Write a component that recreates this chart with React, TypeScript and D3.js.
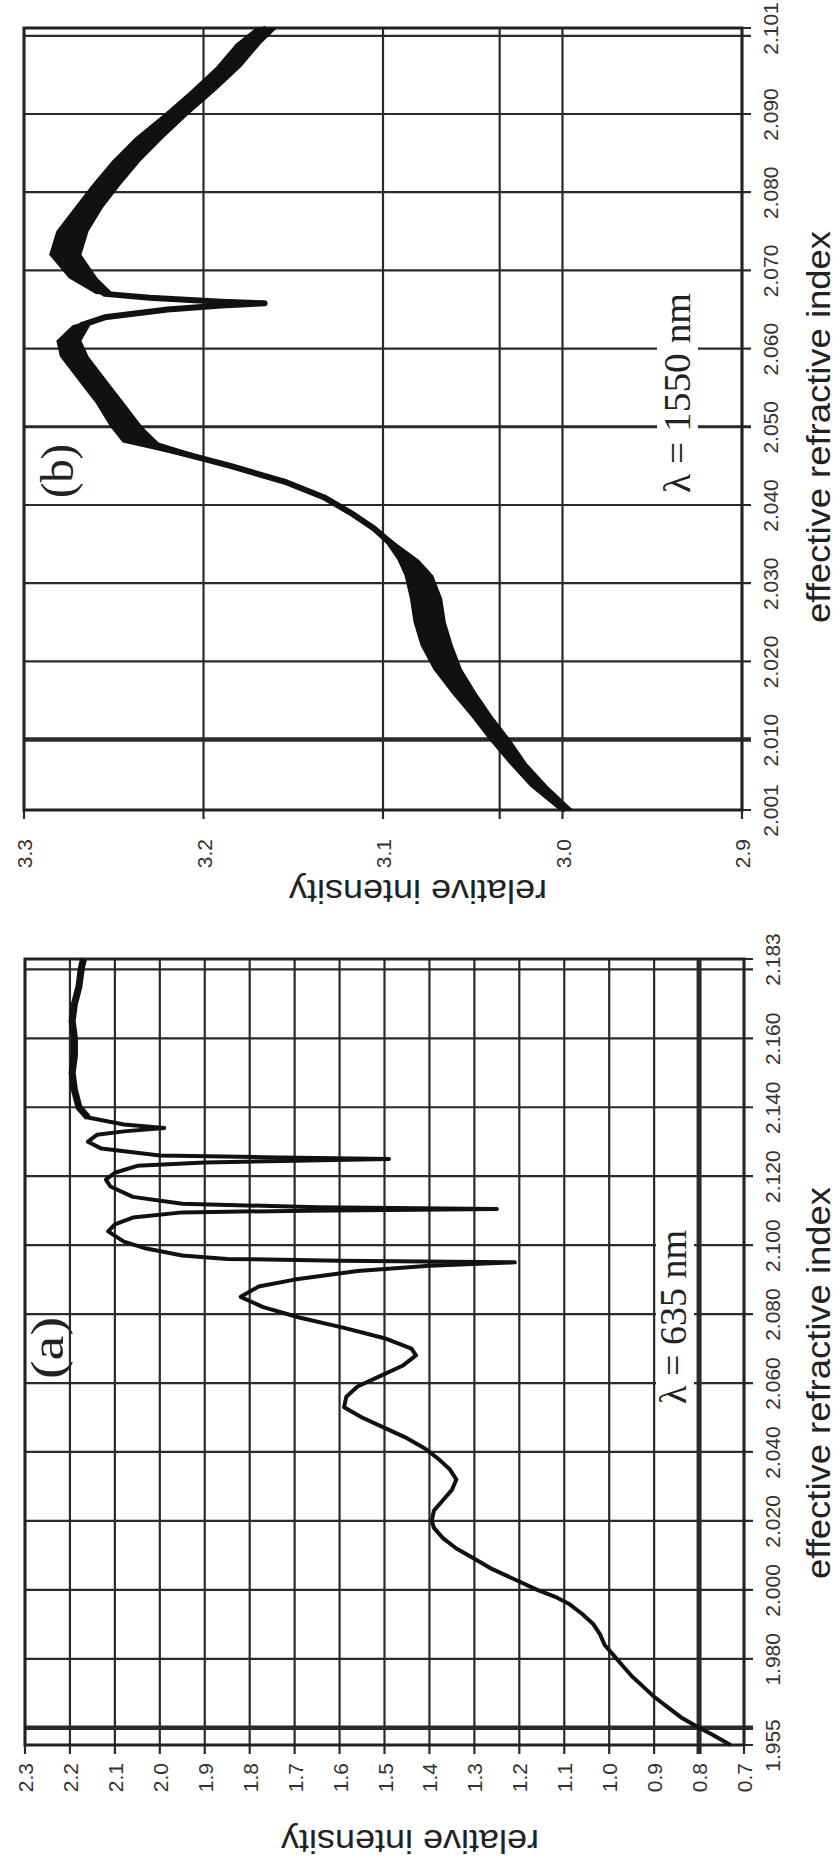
import React, { useEffect, useRef } from 'react';
import * as d3 from 'd3';

// Panel (a), lambda = 635 nm
const indexA = [
  1.955, 1.958, 1.96, 1.963, 1.966, 1.969, 1.972, 1.975, 1.978, 1.981, 1.984, 1.987, 1.99, 1.993, 1.996, 1.998,
  2.0, 2.003, 2.006, 2.009, 2.012, 2.015, 2.018, 2.02, 2.023, 2.026, 2.029, 2.032, 2.035, 2.038, 2.041, 2.044,
  2.047, 2.05, 2.053, 2.056, 2.059, 2.062, 2.065, 2.068, 2.07, 2.073, 2.076, 2.079, 2.082, 2.085, 2.088, 2.09,
  2.0925, 2.094, 2.095, 2.0955, 2.096, 2.097, 2.099, 2.101, 2.104, 2.106, 2.108, 2.1095, 2.11, 2.1105, 2.111,
  2.112, 2.114, 2.117, 2.119, 2.121, 2.123, 2.124, 2.125, 2.1255, 2.126, 2.128, 2.13, 2.132, 2.133, 2.134,
  2.135, 2.137, 2.14, 2.145, 2.15, 2.155, 2.16, 2.165, 2.17, 2.175, 2.18, 2.183,
];
const intensityA = [
  0.73, 0.77, 0.8, 0.84, 0.87, 0.9, 0.925, 0.95, 0.97, 0.99, 1.01, 1.02, 1.035, 1.06, 1.09, 1.12,
  1.16, 1.21, 1.26, 1.3, 1.34, 1.37, 1.39, 1.395, 1.39, 1.37, 1.35, 1.34, 1.355, 1.38, 1.41, 1.45,
  1.5, 1.55, 1.59, 1.585, 1.56, 1.51, 1.46, 1.43, 1.44, 1.5, 1.59, 1.69, 1.77, 1.82, 1.78, 1.7,
  1.56, 1.4, 1.21, 1.6, 1.85, 1.95, 2.03, 2.08, 2.115, 2.1, 2.06, 1.95, 1.67, 1.25, 1.65,
  1.95, 2.06, 2.11, 2.12, 2.1, 2.05, 1.9, 1.49, 1.77, 2.0, 2.13, 2.16, 2.14, 2.08, 1.99,
  2.08, 2.16, 2.18, 2.19, 2.195, 2.19, 2.19, 2.195, 2.19, 2.18, 2.175, 2.17,
];
const intensityTicksA = [2.3, 2.2, 2.1, 2.0, 1.9, 1.8, 1.7, 1.6, 1.5, 1.4, 1.3, 1.2, 1.1, 1.0, 0.9, 0.8, 0.7];
const indexTicksA = [1.955, 1.98, 2.0, 2.02, 2.04, 2.06, 2.08, 2.1, 2.12, 2.14, 2.16, 2.183];
const indexGridA = [1.955, 1.96, 1.98, 2.0, 2.02, 2.04, 2.06, 2.08, 2.1, 2.12, 2.14, 2.16, 2.18, 2.183];

// Panel (b), lambda = 1550 nm
const indexB = [
  2.001, 2.004, 2.007, 2.01, 2.013, 2.016, 2.019, 2.022, 2.025, 2.028, 2.031, 2.033, 2.035, 2.037, 2.039,
  2.041, 2.043, 2.045, 2.0465, 2.048, 2.05, 2.053, 2.056, 2.059, 2.061, 2.063, 2.064, 2.065, 2.0655, 2.0658,
  2.066, 2.0665, 2.067, 2.069, 2.072, 2.075, 2.078, 2.081, 2.084, 2.087, 2.09, 2.093, 2.096, 2.099, 2.101,
];
const intensityB = [
  2.998, 3.013, 3.025, 3.035, 3.045, 3.055, 3.064, 3.07, 3.074, 3.076, 3.08, 3.086, 3.095, 3.105, 3.118,
  3.133, 3.155, 3.185, 3.21, 3.235, 3.243, 3.252, 3.262, 3.272, 3.275, 3.268, 3.255, 3.22, 3.19, 3.166,
  3.19, 3.23, 3.255, 3.267, 3.277, 3.273, 3.264, 3.254, 3.243, 3.23, 3.215, 3.2, 3.186, 3.175, 3.165,
];
// half width of the noise band
const spreadB = [
  0.004, 0.005, 0.005, 0.006, 0.006, 0.007, 0.008, 0.009, 0.009, 0.009, 0.008, 0.006, 0.003, 0.002, 0.002,
  0.002, 0.002, 0.003, 0.006, 0.01, 0.009, 0.008, 0.008, 0.008, 0.007, 0.005, 0.002, 0.001, 0.001, 0.001,
  0.001, 0.002, 0.005, 0.008, 0.009, 0.009, 0.008, 0.008, 0.008, 0.008, 0.007, 0.007, 0.007, 0.007, 0.006,
];
const intensityTicksB = [3.3, 3.2, 3.1, 3.0, 2.9];
const intensityGridB = [3.3, 3.2, 3.1, 3.035, 3.0, 2.9];
const indexTicksB = [2.001, 2.01, 2.02, 2.03, 2.04, 2.05, 2.06, 2.07, 2.08, 2.09, 2.101];
const indexGridB = [2.001, 2.01, 2.02, 2.03, 2.04, 2.05, 2.06, 2.07, 2.08, 2.09, 2.1, 2.101];

const sans = '"Liberation Sans", Arial, sans-serif';
const serif = '"Liberation Serif", "Times New Roman", serif';

function drawPanel(root, p) {
  const g = root.append('g');
  const x = d3.scaleLinear().domain(p.iDomain).range([p.left, p.right]);
  const y = d3.scaleLinear().domain(p.nDomain).range([p.bottom, p.top]);

  // grid
  g.selectAll('.vg').data(p.iGrid).enter().append('line')
    .attr('x1', d => x(d)).attr('x2', d => x(d))
    .attr('y1', p.top).attr('y2', p.bottom + 9)
    .attr('stroke', '#2a2a2a')
    .attr('stroke-width', d => (d === p.iThick ? 5 : 2.2));

  g.selectAll('.hg').data(p.nGrid).enter().append('line')
    .attr('x1', p.left).attr('x2', p.right + 9)
    .attr('y1', d => y(d)).attr('y2', d => y(d))
    .attr('stroke', '#2a2a2a')
    .attr('stroke-width', d => (d === p.nThick ? 4.5 : d === p.nMid ? 3 : 2.2));

  g.append('rect')
    .attr('x', p.left).attr('y', p.top)
    .attr('width', p.right - p.left).attr('height', p.bottom - p.top)
    .attr('fill', 'none').attr('stroke', '#222').attr('stroke-width', 3);

  // lambda label with white box over the grid
  g.append('rect')
    .attr('x', p.lam.box[0]).attr('y', p.lam.box[1])
    .attr('width', p.lam.box[2]).attr('height', p.lam.box[3])
    .attr('fill', '#fff');
  g.append('text')
    .attr('transform', `translate(${p.lam.x},${p.lam.y}) rotate(-90)`)
    .attr('text-anchor', 'middle').attr('dominant-baseline', 'central')
    .attr('font-family', serif).attr('font-size', 38)
    .attr('textLength', p.lam.len).attr('lengthAdjust', 'spacingAndGlyphs')
    .attr('fill', '#222')
    .text(p.lam.text);

  // panel letter
  g.append('text')
    .attr('transform', `translate(${p.tag.x},${p.tag.y}) rotate(-90)`)
    .attr('text-anchor', 'middle').attr('dominant-baseline', 'central')
    .attr('font-family', serif).attr('font-size', 46)
    .attr('textLength', p.tag.len).attr('lengthAdjust', 'spacingAndGlyphs')
    .attr('fill', '#222')
    .text(p.tag.text);

  // data
  if (p.spread) {
    const pts = p.index.map((n, i) => ({ n, v: p.intensity[i], s: p.spread[i] }));
    g.append('path')
      .datum(pts)
      .attr('d', d3.area().y(d => y(d.n)).x0(d => x(d.v - d.s)).x1(d => x(d.v + d.s)))
      .attr('fill', '#111');
    g.append('path')
      .datum(pts)
      .attr('d', d3.line().x(d => x(d.v)).y(d => y(d.n)))
      .attr('fill', 'none').attr('stroke', '#111').attr('stroke-width', 6)
      .attr('stroke-linejoin', 'round');
  } else {
    const pts = p.index.map((n, i) => ({ n, v: p.intensity[i] }));
    g.append('path')
      .datum(pts)
      .attr('d', d3.line().x(d => x(d.v)).y(d => y(d.n)))
      .attr('fill', 'none').attr('stroke', '#111').attr('stroke-width', 4)
      .attr('stroke-linejoin', 'round');
    g.append('path')
      .datum(pts.filter(d => d.n >= 2.137))
      .attr('d', d3.line().x(d => x(d.v)).y(d => y(d.n)))
      .attr('fill', 'none').attr('stroke', '#111').attr('stroke-width', 7)
      .attr('stroke-linejoin', 'round');
  }

  // index axis (right side)
  const ax = g.append('g')
    .attr('transform', `translate(${p.right},0)`)
    .call(d3.axisRight(y).tickValues(p.nTicks).tickSize(0).tickFormat(d3.format('.3f')));
  ax.select('.domain').remove();
  ax.selectAll('text')
    .attr('x', null).attr('dy', null)
    .attr('transform', 'translate(28,0) rotate(-90)')
    .attr('text-anchor', 'middle').attr('dominant-baseline', 'central')
    .attr('font-family', sans).attr('font-size', 21).attr('fill', '#333');

  // intensity axis (bottom)
  const bx = g.append('g')
    .attr('transform', `translate(0,${p.bottom})`)
    .call(d3.axisBottom(x).tickValues(p.iTicks).tickSize(0).tickFormat(d3.format('.1f')));
  bx.select('.domain').remove();
  bx.selectAll('text')
    .attr('y', null).attr('dy', null)
    .attr('transform', `translate(0,${p.labelTop}) rotate(-90)`)
    .attr('text-anchor', 'end').attr('dominant-baseline', 'central')
    .attr('font-family', sans).attr('font-size', 21).attr('fill', '#333');

  // titles
  g.append('text')
    .attr('transform', `translate(${p.xTitle.x},${p.xTitle.y}) rotate(-90)`)
    .attr('text-anchor', 'middle').attr('dominant-baseline', 'central')
    .attr('font-family', sans).attr('font-size', 34)
    .attr('textLength', 392).attr('lengthAdjust', 'spacingAndGlyphs')
    .attr('fill', '#222')
    .text('effective refractive index');

  g.append('text')
    .attr('transform', `translate(${p.yTitle.x},${p.yTitle.y}) rotate(180)`)
    .attr('text-anchor', 'middle').attr('dominant-baseline', 'central')
    .attr('font-family', sans).attr('font-size', 34)
    .attr('textLength', 258).attr('lengthAdjust', 'spacingAndGlyphs')
    .attr('fill', '#222')
    .text('relative intensity');
}

export default function App() {
  const svgRef = useRef(null);

  useEffect(() => {
    if (!svgRef.current) return;
    const svg = d3.select(svgRef.current);
    svg.selectAll('*').remove();

    svg.append('rect').attr('width', 840).attr('height', 1870).attr('fill', '#fff');

    drawPanel(svg, {
      index: indexB, intensity: intensityB, spread: spreadB,
      iDomain: [3.3, 2.9], nDomain: [2.001, 2.101],
      left: 24, right: 742, top: 28, bottom: 810,
      iGrid: intensityGridB, iTicks: intensityTicksB, iThick: null,
      nGrid: indexGridB, nTicks: indexTicksB, nThick: 2.01, nMid: 2.05,
      labelTop: 29,
      lam: { text: 'λ =  1550 nm', x: 677, y: 393, len: 200, box: [657, 288, 41, 210] },
      tag: { text: '(b)', x: 57, y: 471, len: 54 },
      xTitle: { x: 818, y: 427 },
      yTitle: { x: 418, y: 892 },
    });

    drawPanel(svg, {
      index: indexA, intensity: intensityA, spread: null,
      iDomain: [2.3, 0.7], nDomain: [1.955, 2.183],
      left: 25, right: 744, top: 959, bottom: 1745,
      iGrid: intensityTicksA, iTicks: intensityTicksA, iThick: 0.8,
      nGrid: indexGridA, nTicks: indexTicksA, nThick: 1.96, nMid: null,
      labelTop: 18,
      lam: { text: 'λ = 635 nm', x: 673, y: 1317, len: 174, box: [656, 1224, 38, 186] },
      tag: { text: '(a)', x: 47, y: 1348, len: 62 },
      xTitle: { x: 818, y: 1383 },
      yTitle: { x: 410, y: 1842 },
    });
  }, []);

  return (
    <svg
      ref={svgRef}
      width={840}
      height={1870}
      style={{ position: 'absolute', left: 0, top: 0 }}
    />
  );
}
